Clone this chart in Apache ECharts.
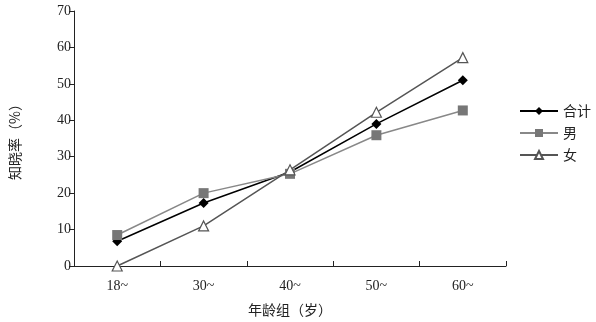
<!DOCTYPE html>
<html><head><meta charset="utf-8">
<script src="https://cdn.jsdelivr.net/npm/echarts@6/dist/echarts.min.js"></script>
<style>html,body{margin:0;padding:0;background:#fff}#c{width:596px;height:322px}</style>
</head><body><div id="c"></div>
<script>
const categories = ['18~', '30~', '40~', '50~', '60~'];
const totalVals = [6.8, 17.3, 25.8, 39.0, 51.0];
const maleVals = [8.5, 20.0, 25.3, 35.9, 42.7];
const femaleVals = [0, 11.0, 26.4, 42.2, 57.2];
const yTicks = [0, 10, 20, 30, 40, 50, 60, 70];

const serif = '"Liberation Serif", "Times New Roman", serif';
const cjk = '"Noto Sans CJK SC", sans-serif';
const chart = echarts.init(document.getElementById('c'));
chart.setOption({
  animation: false,
  backgroundColor: '#fff',
  grid: { left: 73, right: 90, top: 11, bottom: 56 },
  legend: {
    orient: 'vertical', left: 514, top: 99, itemGap: 8,
    itemWidth: 38, itemHeight: 10,
    textStyle: { fontFamily: cjk, fontSize: 14, color: '#222' },
    data: ['合计', '男', '女']
  },
  xAxis: {
    type: 'category', data: categories, boundaryGap: true,
    name: '年龄组（岁）', nameLocation: 'middle', nameGap: 37,
    nameTextStyle: { fontFamily: cjk, fontSize: 14, color: '#222' },
    axisLine: { lineStyle: { color: '#222', width: 1 } },
    axisTick: { show: true, inside: true, length: 5, lineStyle: { color: '#222' } },
    axisLabel: { fontFamily: serif, fontSize: 14, color: '#222', margin: 13 }
  },
  yAxis: {
    type: 'value', min: 0, max: 70, interval: 10,
    name: '知晓率（%）', nameLocation: 'middle', nameGap: 52, nameRotate: 90,
    nameTextStyle: { fontFamily: cjk, fontSize: 14, color: '#222' },
    axisLine: { show: true, lineStyle: { color: '#222', width: 1 } },
    axisTick: { show: true, inside: false, length: 5, lineStyle: { color: '#222' } },
    axisLabel: { fontFamily: serif, fontSize: 14, color: '#222', margin: 3,
      formatter: v => yTicks.includes(v) ? String(v) : '' },
    splitLine: { show: false }
  },
  series: [
    { name: '合计', type: 'line', data: totalVals, symbol: 'diamond', symbolSize: 10,
      lineStyle: { color: '#000', width: 1.5 }, itemStyle: { color: '#000' } },
    { name: '男', type: 'line', data: maleVals, symbol: 'rect', symbolSize: 10,
      lineStyle: { color: '#888', width: 1.5 }, itemStyle: { color: '#777' } },
    { name: '女', type: 'line', data: femaleVals, symbol: 'triangle', symbolSize: 10,
      lineStyle: { color: '#555', width: 1.5 },
      itemStyle: { color: '#fff', borderColor: '#555', borderWidth: 1.2 } }
  ]
});
</script></body></html>
